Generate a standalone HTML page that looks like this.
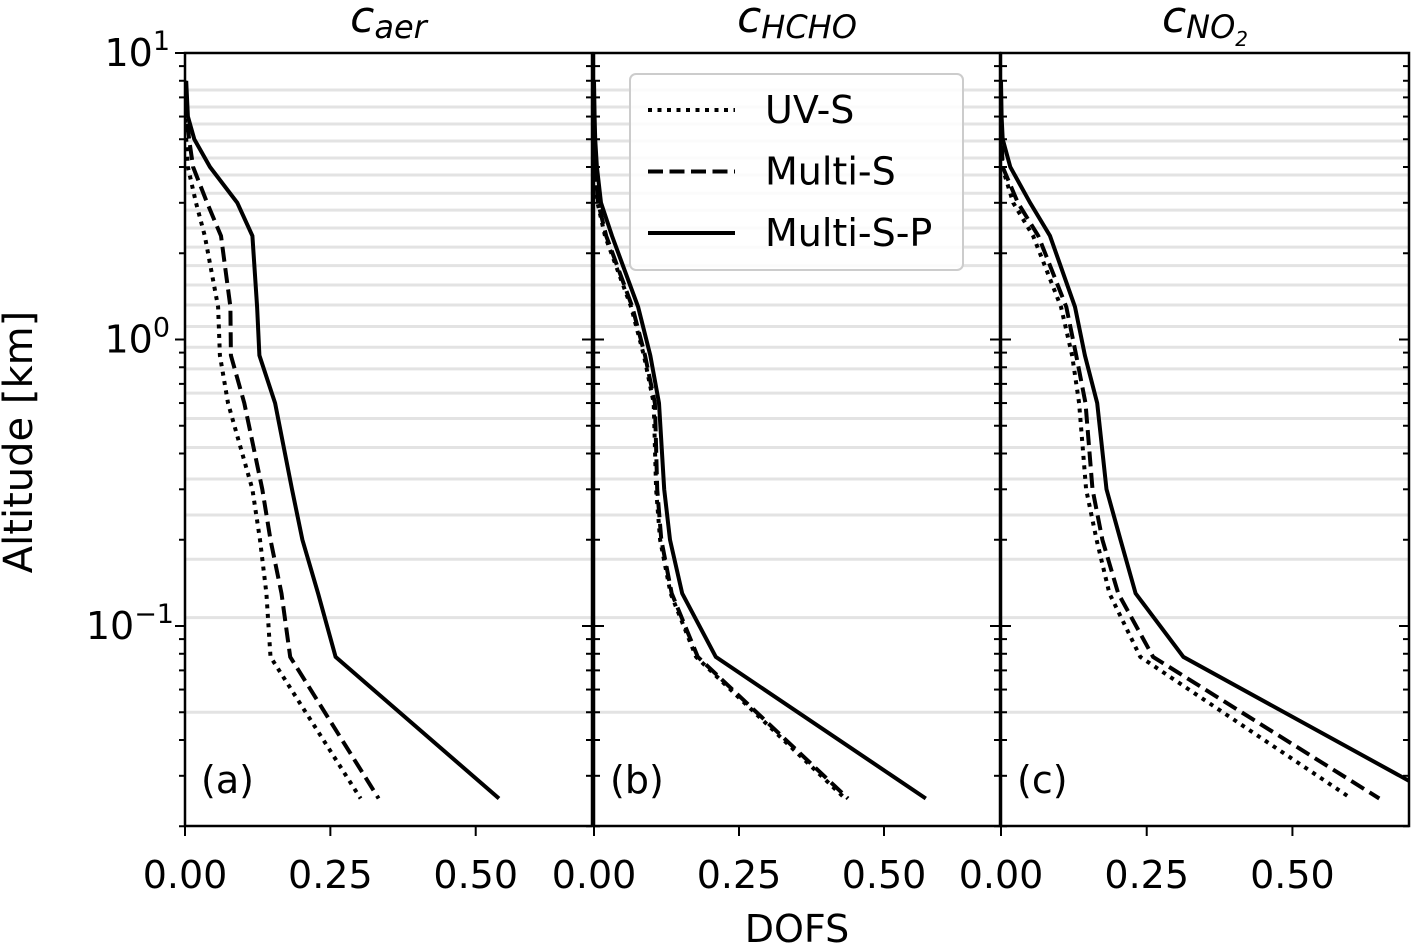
<!DOCTYPE html>
<html><head><meta charset="utf-8"><style>
html,body{margin:0;padding:0;background:#fff;}
svg{display:block;font-family:"DejaVu Sans","Liberation Sans",sans-serif;}
</style></head><body>
<svg id="chart" width="1411" height="944" viewBox="0 0 1411 944" xmlns="http://www.w3.org/2000/svg"></svg>
<script>
const altitudes = [8, 6, 5, 4, 3, 2.3, 1.3, 0.88, 0.6, 0.3, 0.2, 0.13, 0.078, 0.025];
const gridAltitudes = [7.43,6.48,5.65,4.93,4.30,3.75,3.24,2.83,2.45,2.10,1.81,1.55,1.32,1.11,0.94,0.79,0.65,0.53,0.42,0.326,0.244,0.171,0.107,0.050];
const aerUV = [0,0,0.002,0.005,0.019,0.034,0.057,0.060,0.074,0.116,0.129,0.140,0.147,0.302];
const aerMS = [0,0.003,0.007,0.014,0.038,0.062,0.078,0.079,0.102,0.133,0.147,0.166,0.181,0.333];
const aerMSP = [0.002,0.005,0.016,0.043,0.090,0.116,0.124,0.128,0.155,0.184,0.202,0.229,0.259,0.540];
const hchoUV = [0,0,0,0.001,0.006,0.019,0.064,0.086,0.103,0.107,0.114,0.132,0.176,0.433];
const hchoMS = [0,0,0,0.002,0.007,0.021,0.066,0.088,0.105,0.109,0.116,0.134,0.179,0.438];
const hchoMSP = [0,0.001,0.002,0.005,0.012,0.031,0.076,0.097,0.112,0.121,0.131,0.152,0.210,0.572];
const no2UV = [0,0,0,0.002,0.021,0.055,0.103,0.122,0.134,0.146,0.164,0.186,0.239,0.601];
const no2MS = [0,0,0.001,0.003,0.029,0.064,0.112,0.129,0.145,0.157,0.174,0.201,0.261,0.649];
const no2MSP = [0,0.001,0.003,0.016,0.050,0.084,0.127,0.144,0.165,0.181,0.205,0.231,0.313,0.755];
const xTicks = [0, 0.25, 0.5];
const xTickLabels = ["0.00","0.25","0.50"];
const yDecades = [1, 0, -1];
const panelLabels = ["(a)","(b)","(c)"];

const NS="http://www.w3.org/2000/svg";
const svg=document.getElementById('chart');
function mk(tag,attrs,parent){const e=document.createElementNS(NS,tag);for(const k in attrs)e.setAttribute(k,attrs[k]);(parent||svg).appendChild(e);return e;}
const plotTop=53,plotBot=826,xmax=0.70;
const panels=[{x0:185,x1:592},{x0:594,x1:1000},{x0:1001,x1:1409}];
function yS(a){return plotTop+286.5*(1-Math.log10(a));}
const series=[[aerUV,aerMS,aerMSP],[hchoUV,hchoMS,hchoMSP],[no2UV,no2MS,no2MSP]];
const styles=[{d:"4 5.5",w:4},{d:"15 6.5",w:4},{d:"none",w:4}];
const snames=['uv-s','multi-s','multi-s-p'];
const pnames=['aer','hcho','no2'];
const defs=mk('defs',{});
panels.forEach((p,i)=>{
  const xS=v=>p.x0+(p.x1-p.x0)*v/xmax;
  const g=mk('g',{});
  
  
  const cp=mk('clipPath',{id:'cp'+i},defs);
  mk('rect',{x:p.x0,y:plotTop,width:p.x1-p.x0,height:plotBot-plotTop},cp);
  gridAltitudes.forEach(a=>{
    const l=mk('line',{x1:p.x0,x2:p.x1,y1:yS(a),y2:yS(a),stroke:'#e3e3e3','stroke-width':3},g);
    
    
  });
  series[i].forEach((vals,j)=>{
    const pts=vals.map((v,k)=>xS(v).toFixed(1)+','+yS(altitudes[k]).toFixed(1)).join(' ');
    const pl=mk('polyline',{points:pts,fill:'none',stroke:'#000','stroke-width':styles[j].w,'stroke-dasharray':styles[j].d,'clip-path':'url(#cp'+i+')','stroke-linejoin':'miter','stroke-linecap':'butt'},g);
    
    
  });
  for(let d=-2;d<=1;d++){for(let m=1;m<10;m++){const a=m*Math.pow(10,d);const y=yS(a);if(y<plotTop-0.5||y>plotBot+0.5)continue;
    const L=m===1?10:6;
    mk('line',{x1:p.x0-(i===0?L:0),x2:p.x0+(i===0?0:L),y1:y,y2:y,stroke:'#000','stroke-width':2},g);
    mk('line',{x1:p.x1-L,x2:p.x1,y1:y,y2:y,stroke:'#000','stroke-width':2},g);
  }}
  xTicks.forEach((t,k)=>{
    const x=xS(t);
    mk('line',{x1:x,x2:x,y1:plotBot,y2:plotBot+10,stroke:'#000','stroke-width':2},g);
    const tx=mk('text',{x:x,y:plotBot+62,'font-size':38,'text-anchor':'middle'},g);
    tx.textContent=xTickLabels[k];
    
    
  });
  const fr=mk('rect',{x:p.x0,y:plotTop,width:p.x1-p.x0,height:plotBot-plotTop,fill:'none',stroke:'#000','stroke-width':2.5},g);
  
  
  const pl=mk('text',{x:p.x0+16,y:plotBot-33,'font-size':38},g);
  pl.textContent=panelLabels[i];
  
  
});
yDecades.forEach(d=>{
  const y=yS(Math.pow(10,d));
  const t=mk('text',{x:d<0?174:170,y:y+13,'font-size':38,'text-anchor':'end'});
  
  
  t.innerHTML='10<tspan dy="-16" font-size="27">'+(d<0?'\u2212'+(-d):d)+'</tspan>';
});
const yt=mk('text',{x:0,y:0,'font-size':40,'text-anchor':'middle',transform:'translate(32,442) rotate(-90)'});
yt.textContent='Altitude [km]';


const xt=mk('text',{x:797,y:942,'font-size':38,'text-anchor':'middle'});
xt.textContent='DOFS';


const subs=['aer','HCHO','NO<tspan font-size="20" dy="8">2</tspan>'];
panels.forEach((p,i)=>{
  const t=mk('text',{x:(p.x0+p.x1)/2,y:32,'font-size':44,'text-anchor':'middle','font-style':'italic'});
  
  
  t.innerHTML='c<tspan font-size="32" dy="6">'+subs[i]+'</tspan>';
});
const lg=mk('g',{});


mk('rect',{x:630,y:74,width:333,height:196,rx:6,fill:'#fff','fill-opacity':0.85,stroke:'#ccc','stroke-width':2},lg);
['UV-S','Multi-S','Multi-S-P'].forEach((n,j)=>{
  const y=110+j*61.5;
  const e=mk('g',{},lg);
  
  
  mk('line',{x1:648,x2:735,y1:y,y2:y,stroke:'#000','stroke-width':styles[j].w,'stroke-dasharray':styles[j].d},e);
  const t=mk('text',{x:765,y:y+13,'font-size':38},e);
  t.textContent=n;
});
</script>
</body></html>
